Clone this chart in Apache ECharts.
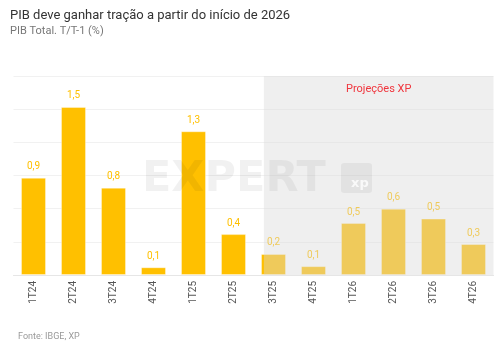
<!DOCTYPE html>
<html>
<head>
<meta charset="utf-8">
<script src="https://cdn.jsdelivr.net/npm/echarts@6/dist/echarts.min.js"></script>
<style>
  html, body { margin: 0; padding: 0; background: #fff; }
  #pib_chart { width: 502px; height: 351px; }
</style>
</head>
<body>
<div id="pib_chart"></div>
<script>
const quarters = ['1T24', '2T24', '3T24', '4T24', '1T25', '2T25', '3T25', '4T25', '1T26', '2T26', '3T26', '4T26']
const pib_values = [0.88, 1.52, 0.79, 0.07, 1.3, 0.37, 0.19, 0.08, 0.47, 0.6, 0.51, 0.28]
// projection area on the helper value axis (category i spans [i, i+1])
const proj_start = 6.26
const proj_end = 12
const y_ticks = [0, 0.3, 0.6, 0.9, 1.2, 1.5, 1.8]

const chartDom = document.getElementById('pib_chart')
const myChart = echarts.init(chartDom)
const font = 'Roboto, "Noto Sans", sans-serif'
let option

option = {
  animation: false,
  textStyle: { fontFamily: font },
  title: [
    {
      text: 'PIB deve ganhar tração a partir do início de 2026',
      left: 5,
      top: 4,
      textStyle: { fontSize: 13, fontWeight: 'normal', color: '#333' },
    },
    {
      text: 'PIB Total. T/T-1 (%)',
      left: 5,
      top: 21,
      textStyle: { fontSize: 11, fontWeight: 'normal', color: '#777' },
    },
    {
      text: 'Fonte: IBGE, XP',
      left: 13,
      top: 327,
      textStyle: { fontSize: 9, fontWeight: 'normal', color: '#999' },
    },
  ],
  grid: {
    left: 13.5,
    right: 8.5,
    top: 76,
    bottom: 76,
  },
  xAxis: [
    {
      type: 'category',
      data: quarters,
      axisTick: { show: false },
      axisLine: { lineStyle: { color: '#e6e6e6' } },
      axisLabel: { rotate: 90, fontSize: 10, color: '#555', margin: 6 },
    },
    {
      type: 'value',
      min: 0,
      max: 12,
      show: false,
    },
  ],
  yAxis: {
    type: 'value',
    min: y_ticks[0],
    max: y_ticks[y_ticks.length - 1],
    interval: 0.3,
    axisLabel: { show: false },
    axisLine: { show: false },
    axisTick: { show: false },
    splitLine: { lineStyle: { color: '#f1f1f1' } },
  },
  graphic: [
    {
      type: 'text',
      left: 142,
      top: 158,
      z: 50,
      style: {
        text: 'EXPERT',
        font: 'bold 43px "DejaVu Sans"',
        fill: 'rgba(0,0,0,0.055)',
      },
    },
    {
      type: 'rect',
      left: 341,
      top: 163,
      z: 50,
      shape: { width: 31, height: 30, r: 3 },
      style: { fill: 'rgba(0,0,0,0.055)' },
    },
    {
      type: 'text',
      left: 351,
      top: 177,
      z: 51,
      style: {
        text: 'xp',
        font: 'bold 13px "DejaVu Sans"',
        fill: 'rgba(255,255,255,0.8)',
      },
    },
  ],
  series: [
    {
      name: 'PIB',
      type: 'bar',
      barWidth: 25,
      data: pib_values,
      itemStyle: { color: '#ffc000', borderColor: 'rgba(255,255,255,0.35)', borderWidth: 1 },
      label: {
        show: true,
        position: 'top',
        distance: 6,
        fontSize: 10,
        color: '#ffc000',
        formatter: (p) => p.value.toFixed(1).replace('.', ','),
      },
    },
    {
      name: 'projecao',
      type: 'line',
      xAxisIndex: 1,
      data: [[0, 0]],
      symbol: 'none',
      lineStyle: { opacity: 0 },
      silent: true,
      markArea: {
        silent: true,
        z: 10,
        itemStyle: { color: 'rgba(216,216,216,0.42)' },
        label: {
          show: true,
          position: 'insideTop',
          distance: 8,
          fontSize: 11,
          color: '#f0353d',
        },
        data: [
          [
            { name: 'Projeções XP', xAxis: proj_start, yAxis: y_ticks[y_ticks.length - 1] },
            { xAxis: proj_end, yAxis: y_ticks[0] },
          ],
        ],
      },
    },
  ],
}

window.addEventListener('resize', () => {
  myChart.resize()
})
option && myChart.setOption(option)
</script>
</body>
</html>
